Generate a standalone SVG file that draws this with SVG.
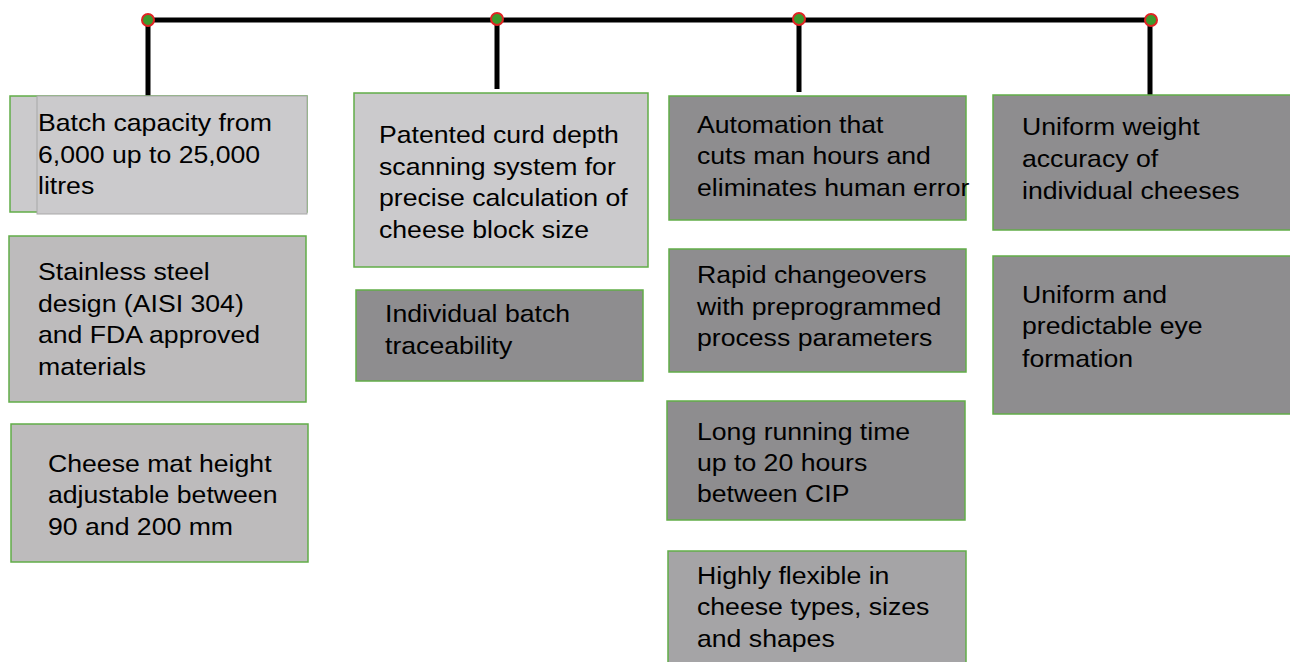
<svg xmlns="http://www.w3.org/2000/svg" width="1290" height="662" viewBox="0 0 1290 662">
<style>
.box{stroke:#62ad48;stroke-width:1.5}
.l1{fill:#cbcacc}.l2{fill:#bdbbbc}.d{fill:#8e8d8f}.m{fill:#a5a4a6}
text{font-family:"Liberation Sans",Arial,sans-serif;font-size:24px;fill:#000}
.wire{stroke:#000;stroke-width:5;fill:none}
.dot{fill:#3c9a2c;stroke:#e02424;stroke-width:2}
</style>
<rect width="1290" height="662" fill="#fff"/>
<g id="connectors">
<path class="wire" d="M148 20H1151M148 20V96M497 20V89M799 20V92M1150 20V96"/>
<circle class="dot" cx="148" cy="20" r="6"/>
<circle class="dot" cx="497" cy="19" r="6"/>
<circle class="dot" cx="799" cy="19" r="6"/>
<circle class="dot" cx="1151" cy="20" r="6"/>
</g>
<g id="n1">
<rect class="box l1" x="10" y="96" width="297" height="116"/>
<rect x="37" y="96" width="270" height="118" fill="#cbcacc" stroke="#a8a8a8" stroke-width="1"/>
<text transform="translate(38 0) scale(1.11 1)"><tspan x="0" y="131">Batch capacity from</tspan><tspan x="0" y="163">6,000 up to 25,000</tspan><tspan x="0" y="194">litres</tspan></text>
</g>
<g id="n2">
<rect class="box l2" x="9" y="236" width="297" height="166"/>
<text transform="translate(38 0) scale(1.11 1)"><tspan x="0" y="280">Stainless steel</tspan><tspan x="0" y="312">design (AISI 304)</tspan><tspan x="0" y="343">and FDA approved</tspan><tspan x="0" y="375">materials</tspan></text>
</g>
<g id="n3">
<rect class="box l2" x="11" y="424" width="297" height="138"/>
<text transform="translate(48 0) scale(1.11 1)"><tspan x="0" y="472">Cheese mat height</tspan><tspan x="0" y="503">adjustable between</tspan><tspan x="0" y="535">90 and 200 mm</tspan></text>
</g>
<g id="n4">
<rect class="box l1" x="354" y="93" width="294" height="174"/>
<text transform="translate(379 0) scale(1.11 1)"><tspan x="0" y="143">Patented curd depth</tspan><tspan x="0" y="175">scanning system for</tspan><tspan x="0" y="206">precise calculation of</tspan><tspan x="0" y="238">cheese block size</tspan></text>
</g>
<g id="n5">
<rect class="box d" x="356" y="290" width="287" height="91"/>
<text transform="translate(385 0) scale(1.11 1)"><tspan x="0" y="322">Individual batch</tspan><tspan x="0" y="354">traceability</tspan></text>
</g>
<g id="n6">
<rect class="box d" x="669" y="96" width="297" height="124"/>
<text transform="translate(697 0) scale(1.11 1)"><tspan x="0" y="133">Automation that</tspan><tspan x="0" y="164">cuts man hours and</tspan><tspan x="0" y="196">eliminates human error</tspan></text>
</g>
<g id="n7">
<rect class="box d" x="669" y="249" width="297" height="123"/>
<text transform="translate(697 0) scale(1.11 1)"><tspan x="0" y="283">Rapid changeovers</tspan><tspan x="0" y="315">with preprogrammed</tspan><tspan x="0" y="346">process parameters</tspan></text>
</g>
<g id="n8">
<rect class="box d" x="667" y="401" width="298" height="119"/>
<text transform="translate(697 0) scale(1.11 1)"><tspan x="0" y="440">Long running time</tspan><tspan x="0" y="471">up to 20 hours</tspan><tspan x="0" y="502">between CIP</tspan></text>
</g>
<g id="n9">
<rect class="box m" x="668" y="551" width="298" height="115"/>
<text transform="translate(697 0) scale(1.11 1)"><tspan x="0" y="584">Highly flexible in</tspan><tspan x="0" y="615">cheese types, sizes</tspan><tspan x="0" y="647">and shapes</tspan></text>
</g>
<g id="n10">
<rect class="box d" x="993" y="95" width="300" height="135"/>
<text transform="translate(1022 0) scale(1.11 1)"><tspan x="0" y="135">Uniform weight</tspan><tspan x="0" y="167">accuracy of</tspan><tspan x="0" y="199">individual cheeses</tspan></text>
</g>
<g id="n11">
<rect class="box d" x="993" y="256" width="300" height="158"/>
<text transform="translate(1022 0) scale(1.11 1)"><tspan x="0" y="303">Uniform and</tspan><tspan x="0" y="334">predictable eye</tspan><tspan x="0" y="367">formation</tspan></text>
</g>
</svg>
